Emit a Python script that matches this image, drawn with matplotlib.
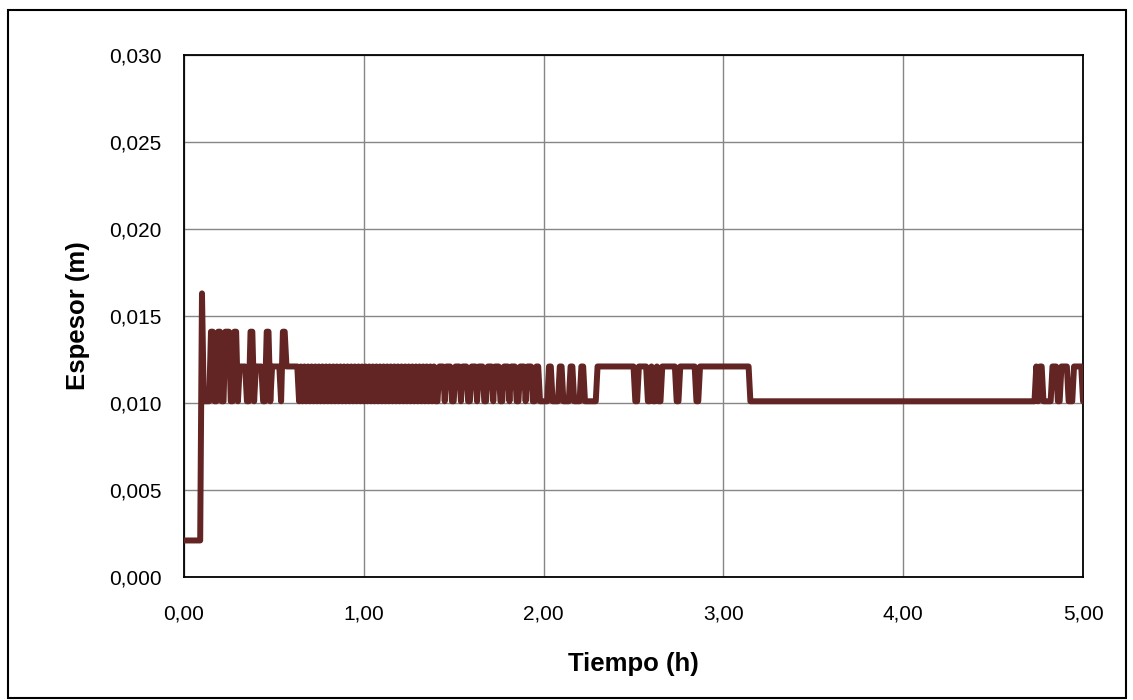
import matplotlib.pyplot as plt
from matplotlib.patches import Rectangle
from matplotlib.ticker import FuncFormatter
import numpy as np

plt.rcParams['font.family'] = ['Liberation Sans', 'DejaVu Sans']

# ------------------- DATOS -------------------
# espesor (m) registrado cada 0,01 h (0 a 5 h), 10 valores por fila
paso_h = 0.01
espesor = [
    # 0,00 - 0,49 h
    0.0021, 0.0021, 0.0021, 0.0021, 0.0021, 0.0021, 0.0021, 0.0021, 0.0021, 0.0021,
    0.0163, 0.0101, 0.0101, 0.0101, 0.0101, 0.0141, 0.0141, 0.0101, 0.0101, 0.0141,
    0.0141, 0.0101, 0.0101, 0.0141, 0.0141, 0.0141, 0.0101, 0.0101, 0.0141, 0.0141,
    0.0101, 0.0121, 0.0121, 0.0121, 0.0121, 0.0101, 0.0101, 0.0141, 0.0141, 0.0101,
    0.0121, 0.0121, 0.0121, 0.0121, 0.0101, 0.0101, 0.0141, 0.0141, 0.0101, 0.0121,
    # 0,50 - 0,99 h
    0.0121, 0.0121, 0.0121, 0.0121, 0.0101, 0.0141, 0.0141, 0.0121, 0.0121, 0.0121,
    0.0121, 0.0121, 0.0121, 0.0121, 0.0101, 0.0121, 0.0101, 0.0121, 0.0101, 0.0121,
    0.0101, 0.0121, 0.0101, 0.0121, 0.0101, 0.0121, 0.0101, 0.0121, 0.0101, 0.0121,
    0.0101, 0.0121, 0.0101, 0.0121, 0.0101, 0.0121, 0.0101, 0.0121, 0.0101, 0.0121,
    0.0101, 0.0121, 0.0101, 0.0121, 0.0101, 0.0121, 0.0101, 0.0121, 0.0101, 0.0121,
    # 1,00 - 1,49 h
    0.0101, 0.0121, 0.0101, 0.0121, 0.0101, 0.0121, 0.0101, 0.0121, 0.0101, 0.0121,
    0.0101, 0.0121, 0.0101, 0.0121, 0.0101, 0.0121, 0.0101, 0.0121, 0.0101, 0.0121,
    0.0101, 0.0121, 0.0101, 0.0121, 0.0101, 0.0121, 0.0101, 0.0121, 0.0101, 0.0121,
    0.0101, 0.0121, 0.0101, 0.0121, 0.0101, 0.0121, 0.0101, 0.0121, 0.0101, 0.0121,
    0.0101, 0.0101, 0.0121, 0.0121, 0.0121, 0.0101, 0.0121, 0.0121, 0.0121, 0.0101,
    # 1,50 - 1,99 h
    0.0101, 0.0121, 0.0121, 0.0121, 0.0101, 0.0121, 0.0121, 0.0121, 0.0101, 0.0101,
    0.0121, 0.0121, 0.0121, 0.0101, 0.0121, 0.0121, 0.0121, 0.0101, 0.0101, 0.0121,
    0.0121, 0.0121, 0.0101, 0.0121, 0.0121, 0.0121, 0.0101, 0.0101, 0.0121, 0.0121,
    0.0121, 0.0101, 0.0121, 0.0121, 0.0121, 0.0101, 0.0101, 0.0121, 0.0121, 0.0121,
    0.0101, 0.0121, 0.0121, 0.0121, 0.0101, 0.0101, 0.0121, 0.0121, 0.0101, 0.0101,
    # 2,00 - 2,49 h
    0.0101, 0.0101, 0.0101, 0.0121, 0.0121, 0.0101, 0.0101, 0.0101, 0.0101, 0.0121,
    0.0121, 0.0101, 0.0101, 0.0101, 0.0101, 0.0121, 0.0121, 0.0101, 0.0101, 0.0101,
    0.0101, 0.0121, 0.0121, 0.0101, 0.0101, 0.0101, 0.0101, 0.0101, 0.0101, 0.0101,
    0.0121, 0.0121, 0.0121, 0.0121, 0.0121, 0.0121, 0.0121, 0.0121, 0.0121, 0.0121,
    0.0121, 0.0121, 0.0121, 0.0121, 0.0121, 0.0121, 0.0121, 0.0121, 0.0121, 0.0121,
    # 2,50 - 2,99 h
    0.0121, 0.0101, 0.0101, 0.0121, 0.0121, 0.0121, 0.0121, 0.0121, 0.0101, 0.0101,
    0.0121, 0.0101, 0.0101, 0.0121, 0.0101, 0.0101, 0.0121, 0.0121, 0.0121, 0.0121,
    0.0121, 0.0121, 0.0121, 0.0121, 0.0101, 0.0101, 0.0121, 0.0121, 0.0121, 0.0121,
    0.0121, 0.0121, 0.0121, 0.0121, 0.0121, 0.0101, 0.0101, 0.0121, 0.0121, 0.0121,
    0.0121, 0.0121, 0.0121, 0.0121, 0.0121, 0.0121, 0.0121, 0.0121, 0.0121, 0.0121,
    # 3,00 - 3,49 h
    0.0121, 0.0121, 0.0121, 0.0121, 0.0121, 0.0121, 0.0121, 0.0121, 0.0121, 0.0121,
    0.0121, 0.0121, 0.0121, 0.0121, 0.0121, 0.0101, 0.0101, 0.0101, 0.0101, 0.0101,
    0.0101, 0.0101, 0.0101, 0.0101, 0.0101, 0.0101, 0.0101, 0.0101, 0.0101, 0.0101,
    0.0101, 0.0101, 0.0101, 0.0101, 0.0101, 0.0101, 0.0101, 0.0101, 0.0101, 0.0101,
    0.0101, 0.0101, 0.0101, 0.0101, 0.0101, 0.0101, 0.0101, 0.0101, 0.0101, 0.0101,
    # 3,50 - 3,99 h
    0.0101, 0.0101, 0.0101, 0.0101, 0.0101, 0.0101, 0.0101, 0.0101, 0.0101, 0.0101,
    0.0101, 0.0101, 0.0101, 0.0101, 0.0101, 0.0101, 0.0101, 0.0101, 0.0101, 0.0101,
    0.0101, 0.0101, 0.0101, 0.0101, 0.0101, 0.0101, 0.0101, 0.0101, 0.0101, 0.0101,
    0.0101, 0.0101, 0.0101, 0.0101, 0.0101, 0.0101, 0.0101, 0.0101, 0.0101, 0.0101,
    0.0101, 0.0101, 0.0101, 0.0101, 0.0101, 0.0101, 0.0101, 0.0101, 0.0101, 0.0101,
    # 4,00 - 4,49 h
    0.0101, 0.0101, 0.0101, 0.0101, 0.0101, 0.0101, 0.0101, 0.0101, 0.0101, 0.0101,
    0.0101, 0.0101, 0.0101, 0.0101, 0.0101, 0.0101, 0.0101, 0.0101, 0.0101, 0.0101,
    0.0101, 0.0101, 0.0101, 0.0101, 0.0101, 0.0101, 0.0101, 0.0101, 0.0101, 0.0101,
    0.0101, 0.0101, 0.0101, 0.0101, 0.0101, 0.0101, 0.0101, 0.0101, 0.0101, 0.0101,
    0.0101, 0.0101, 0.0101, 0.0101, 0.0101, 0.0101, 0.0101, 0.0101, 0.0101, 0.0101,
    # 4,50 - 5,00 h
    0.0101, 0.0101, 0.0101, 0.0101, 0.0101, 0.0101, 0.0101, 0.0101, 0.0101, 0.0101,
    0.0101, 0.0101, 0.0101, 0.0101, 0.0101, 0.0101, 0.0101, 0.0101, 0.0101, 0.0101,
    0.0101, 0.0101, 0.0101, 0.0101, 0.0121, 0.0101, 0.0121, 0.0121, 0.0101, 0.0101,
    0.0101, 0.0101, 0.0101, 0.0121, 0.0121, 0.0121, 0.0101, 0.0101, 0.0121, 0.0121,
    0.0121, 0.0121, 0.0101, 0.0101, 0.0101, 0.0121, 0.0121, 0.0121, 0.0121, 0.0121,
    0.0101,
]
tiempo = np.arange(len(espesor)) * paso_h

x_ticks = [0, 1, 2, 3, 4, 5]
y_ticks = [0.000, 0.005, 0.010, 0.015, 0.020, 0.025, 0.030]

# ------------------- GRAFICO -------------------
fig = plt.figure(figsize=(11.33, 7.0), dpi=100)
ax = fig.add_axes([0.1624, 0.1757, 0.7935, 0.7457])

ax.plot(tiempo, espesor, color='#632523', linewidth=4.3,
        solid_joinstyle='round', solid_capstyle='round', zorder=3)

ax.set_xlim(0, 5)
ax.set_ylim(0, 0.030)
ax.set_xticks(x_ticks)
ax.set_yticks(y_ticks)
ax.xaxis.set_major_formatter(FuncFormatter(lambda v, p: f"{v:.2f}".replace('.', ',')))
ax.yaxis.set_major_formatter(FuncFormatter(lambda v, p: f"{v:.3f}".replace('.', ',')))
ax.tick_params(axis='x', length=0, pad=20, labelsize=15)
ax.tick_params(axis='y', length=0, pad=16, labelsize=15)

ax.grid(True, color='#868686', linewidth=1.0, zorder=1)
ax.set_axisbelow(True)
for s in ax.spines.values():
    s.set_color('black')
    s.set_linewidth(1.3)

ax.set_xlabel("Tiempo (h)", fontsize=18.5, fontweight='bold', labelpad=20)
ax.set_ylabel("Espesor (m)", fontsize=18.5, fontweight='bold', labelpad=14)

# marco exterior del grafico
fig.patches.append(Rectangle((8 / 1133, 2 / 700), 1118 / 1133, 688 / 700,
                             transform=fig.transFigure, fill=False,
                             edgecolor='black', linewidth=1.5))

fig.savefig("out.png", dpi=100)
